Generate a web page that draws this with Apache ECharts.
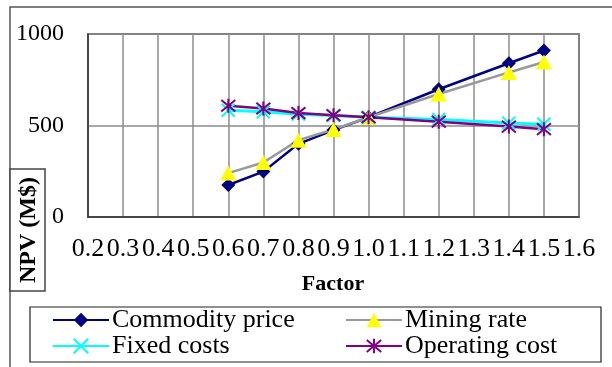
<!DOCTYPE html>
<html>
<head>
<meta charset="utf-8">
<script src="https://cdn.jsdelivr.net/npm/echarts@6/dist/echarts.min.js"></script>
<style>
  html, body { margin: 0; padding: 0; background: #fff; }
  #chart { width: 612px; height: 367px; }
</style>
</head>
<body>
<div id="chart"></div>
<script>
// Sensitivity of NPV to each input factor
const factors       = [0.6, 0.7, 0.8, 0.9, 1.0, 1.2, 1.4, 1.5];
const commodityPrice = [175, 248, 400, 475, 545, 698, 840, 910];
const miningRate     = [240, 298, 420, 478, 545, 672, 790, 847];
const fixedCosts     = [583, 575, 562, 555, 545, 533, 513, 507];
const operatingCost  = [608, 593, 568, 556, 545, 521, 494, 480];

// Axis ticks
const xTickMin = 0.2, xTickMax = 1.6, xTickStep = 0.1;
const yTicks = [0, 500, 1000];

const seriesNames = ['Commodity price', 'Mining rate', 'Fixed costs', 'Operating cost'];

const FONT = 'Liberation Serif';
const pair = (xs, ys) => xs.map((x, i) => [x, ys[i]]);

const crossPath = 'path://M0,0L10,10M10,0L0,10';
const starPath = 'path://M0,0L10,10M10,0L0,10M5,-1L5,11';

const legendBase = {
  orient: 'vertical', top: 307,
  itemWidth: 56, itemHeight: 18, itemGap: 0,
  textStyle: { fontFamily: FONT, fontSize: 26, color: '#000', lineHeight: 26, padding: [0, 0, 0, -2] },
  padding: 0
};

const chart = echarts.init(document.getElementById('chart'), null, { renderer: 'canvas' });

chart.setOption({
  animation: false,
  backgroundColor: '#fff',
  textStyle: { fontFamily: FONT },
  grid: {
    left: 88, top: 34, width: 491, height: 183,
    containLabel: false,
    outerBoundsMode: 'none',
    show: true,
    borderColor: '#333',
    borderWidth: 1.5,
    backgroundColor: 'transparent'
  },
  xAxis: {
    type: 'value',
    min: xTickMin, max: xTickMax, interval: xTickStep,
    axisLine: { show: true, lineStyle: { color: '#333', width: 1.5 } },
    axisTick: { show: false },
    axisLabel: {
      color: '#000', fontFamily: FONT, fontSize: 26, margin: 19,
      formatter: v => v.toFixed(1)
    },
    splitLine: { show: true, lineStyle: { color: '#8c8c8c', width: 1.5 } }
  },
  yAxis: {
    type: 'value',
    min: yTicks[0], max: yTicks[yTicks.length - 1], interval: yTicks[1] - yTicks[0],
    axisLine: { show: true, lineStyle: { color: '#333', width: 1.5 } },
    axisTick: { show: false },
    axisLabel: { color: '#000', fontFamily: FONT, fontSize: 24, margin: 24,
                 formatter: v => String(v) },
    splitLine: { show: true, lineStyle: { color: '#8c8c8c', width: 1.5 } }
  },
  legend: [
    Object.assign({}, legendBase, { data: [seriesNames[0], seriesNames[2]], left: 52 }),
    Object.assign({}, legendBase, { data: [seriesNames[1], seriesNames[3]], left: 345 })
  ],
  graphic: [
    // outer chart frame
    { type: 'polyline', silent: true,
      shape: { points: [[10, 370], [10, 7], [615, 7]] },
      style: { stroke: '#555', lineWidth: 1.5, fill: null } },
    // box around the y-axis title
    { type: 'rect', silent: true,
      shape: { x: 10, y: 169, width: 35, height: 122 },
      style: { stroke: '#444', lineWidth: 1.5, fill: '#fff' } },
    { type: 'text', silent: true,
      x: 29, y: 230, rotation: Math.PI / 2,
      style: { text: 'NPV (M$)', font: 'bold 24px "Liberation Serif"', fill: '#000',
               align: 'center', verticalAlign: 'middle' } },
    // x-axis title
    { type: 'text', silent: true,
      x: 333, y: 284,
      style: { text: 'Factor', font: 'bold 22px "Liberation Serif"', fill: '#000',
               align: 'center', verticalAlign: 'middle' } },
    // legend frame
    { type: 'rect', silent: true, z: -1,
      shape: { x: 30, y: 307, width: 571, height: 55 },
      style: { stroke: '#222', lineWidth: 1.2, fill: 'transparent' } }
  ],
  series: [
    {
      name: seriesNames[0], type: 'line', data: pair(factors, commodityPrice),
      symbol: 'diamond', symbolSize: 14,
      lineStyle: { color: '#000080', width: 2.5 },
      itemStyle: { color: '#000080' }
    },
    {
      name: seriesNames[1], type: 'line', data: pair(factors, miningRate),
      symbol: 'triangle', symbolSize: [16, 15],
      lineStyle: { color: '#999999', width: 2.5 },
      itemStyle: { color: '#ffff00' }
    },
    {
      name: seriesNames[2], type: 'line', data: pair(factors, fixedCosts),
      symbol: crossPath, symbolSize: 13,
      lineStyle: { color: '#00ffff', width: 3 },
      itemStyle: { color: '#00ffff', borderColor: '#00ffff', borderWidth: 2 }
    },
    {
      name: seriesNames[3], type: 'line', data: pair(factors, operatingCost),
      symbol: starPath, symbolSize: 14,
      lineStyle: { color: '#800080', width: 2.5 },
      itemStyle: { color: '#800080', borderColor: '#800080', borderWidth: 2 }
    }
  ]
});
</script>
</body>
</html>
